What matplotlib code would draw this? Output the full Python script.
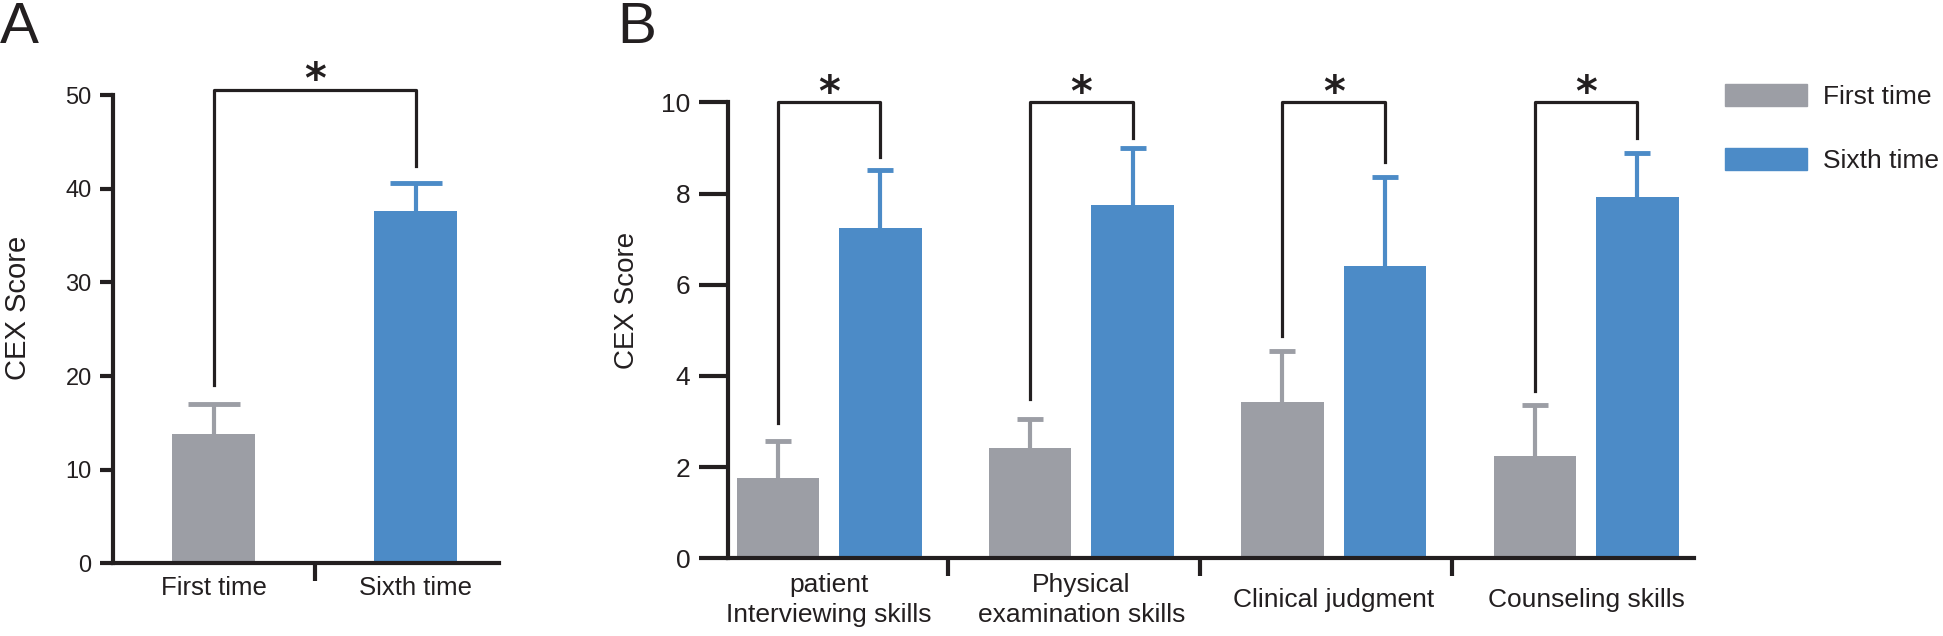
import matplotlib
matplotlib.use('Agg')
import matplotlib.pyplot as plt
from matplotlib.patches import Patch
import numpy as np

plt.rcParams['font.family'] = ['Liberation Sans', 'DejaVu Sans']

# panel A: total CEX score
a_labels = ['First time', 'Sixth time']
a_means = [13.8, 37.6]
a_err = [3.2, 3.0]
a_bracket = [19.0, 50.6, 42.5]  # left leg end, top, right leg end

# panel B: CEX score per skill
b_labels = ['patient\nInterviewing skills', 'Physical\nexamination skills',
            'Clinical judgment', 'Counseling skills']
b_first = [1.75, 2.42, 3.42, 2.24]
b_first_err = [0.83, 0.63, 1.13, 1.12]
b_sixth = [7.24, 7.75, 6.42, 7.92]
b_sixth_err = [1.28, 1.24, 1.94, 0.97]
b_leg_first = [2.97, 3.5, 4.88, 3.67]
b_leg_sixth = [8.81, 9.22, 8.70, 9.22]
b_top = [10.0, 10.0, 10.0, 10.0]

series = ['First time', 'Sixth time']

gray = '#9c9ea5'
blue = '#4c8bc7'
dark = '#231f20'

fig = plt.figure(figsize=(19.43, 6.36), dpi=100)
axA = fig.add_axes([0.0582, 0.1146, 0.1987, 0.7355])
axB = fig.add_axes([0.3745, 0.1223, 0.4971, 0.7168])

def style_axes(ax, ylen, ysize):
    for s in ['top', 'right']:
        ax.spines[s].set_visible(False)
    for s in ['left', 'bottom']:
        ax.spines[s].set_linewidth(3)
        ax.spines[s].set_color(dark)
    ax.tick_params(axis='y', direction='out', length=ylen, width=3, color=dark,
                   labelsize=ysize, labelcolor=dark, pad=6)
    ax.tick_params(axis='x', which='major', length=0, labelcolor=dark)
    ax.tick_params(axis='x', which='minor', direction='out', length=13, width=3, color=dark)

def up_errorbar(ax, x, m, e, c, cap):
    # only the upper half of the error bar, no cap at the bar top
    eb = ax.errorbar(x, m, yerr=[np.zeros(len(np.atleast_1d(e))), e], fmt='none', ecolor=c,
                     elinewidth=3, capsize=cap, capthick=3.5, zorder=1)
    eb[1][0].set_visible(False)

def star(ax, x, y):
    ax.annotate('*', xy=(x, y), xytext=(0, 6), textcoords='offset points',
                ha='center', va='center', fontsize=30, fontweight='bold', color=dark,
                family='DejaVu Sans', annotation_clip=False)

# ---- panel A
xa = np.arange(len(a_labels))
axA.bar(xa, a_means, width=0.41, color=[gray, blue], zorder=2)
for x, m, e, c in zip(xa, a_means, a_err, [gray, blue]):
    up_errorbar(axA, [x], [m], [e], c, 18.5)
axA.plot([xa[0], xa[0], xa[1], xa[1]], [a_bracket[0], a_bracket[1], a_bracket[1], a_bracket[2]],
         color=dark, lw=2.3, clip_on=False)
star(axA, (xa[0] + xa[1]) / 2, a_bracket[1])
axA.set_xlim(-0.4975, 1.413)
axA.set_ylim(0, 50)
axA.set_yticks(range(0, 51, 10))
axA.set_xticks(xa)
axA.set_xticklabels(a_labels, va='center', fontsize=18.5)
axA.set_xticks([0.5], minor=True)
style_axes(axA, 9.4, 17)
axA.tick_params(axis='x', which='major', pad=18)
axA.spines['left'].set_bounds(0, 50)
axA.set_ylabel('CEX Score', fontsize=21, color=dark)
axA.yaxis.set_label_coords(-0.246, 0.545)
axA.yaxis.label.set_va('center')

# ---- panel B
xb = np.arange(len(b_labels))
off, w = 0.203, 0.327
axB.bar(xb - off, b_first, width=w, color=gray, zorder=2)
axB.bar(xb + off, b_sixth, width=w, color=blue, zorder=2)
up_errorbar(axB, xb - off, b_first, b_first_err, gray, 9.4)
up_errorbar(axB, xb + off, b_sixth, b_sixth_err, blue, 9.4)
for x, l1, l2, t in zip(xb, b_leg_first, b_leg_sixth, b_top):
    axB.plot([x - off, x - off, x + off, x + off], [l1, t, t, l2], color=dark, lw=2.3, clip_on=False)
    star(axB, x, t)
axB.set_xlim(-0.402, 3.426)
axB.set_ylim(0, 10)
axB.set_yticks(range(0, 11, 2))
axB.set_xticks(xb)
axB.set_xticklabels(b_labels, va='center', fontsize=19, linespacing=1.3)
axB.set_xticks(xb[:-1] + 0.47, minor=True)
style_axes(axB, 21, 19)
axB.tick_params(axis='x', which='major', pad=30)
axB.spines['left'].set_bounds(0, 10)
axB.set_ylabel('CEX Score', fontsize=20, color=dark)
axB.yaxis.set_label_coords(-0.104, 0.566)
axB.yaxis.label.set_va('center')

handles = [Patch(color=gray), Patch(color=blue)]
fig.legend(handles, series, loc='upper left', bbox_to_anchor=(1725 / 1943, 1 - 84 / 636),
           frameon=False, fontsize=19, handlelength=3.1, handleheight=0.93,
           handletextpad=0.6, labelspacing=1.45, borderpad=0, borderaxespad=0,
           labelcolor=dark)

fig.text(0.0, 1 - 43 / 636, 'A', fontsize=42, color=dark, va='baseline', ha='left')
fig.text(617 / 1943, 1 - 43 / 636, 'B', fontsize=42, color=dark, va='baseline', ha='left')

fig.savefig('out.png', dpi=100)
